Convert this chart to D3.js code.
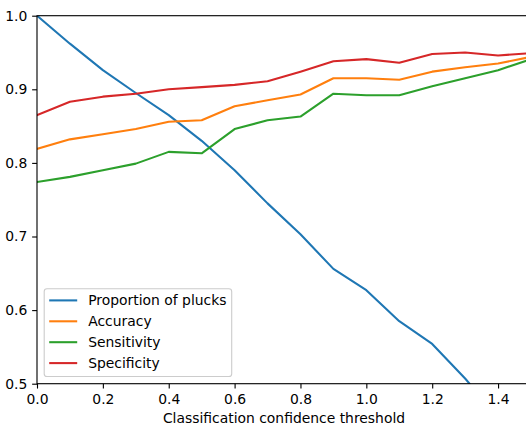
<!DOCTYPE html>
<html>
<head>
<meta charset="utf-8">
<script src="https://cdn.jsdelivr.net/npm/d3@7"></script>
<style>
  body { margin: 0; background: #fff; }
  text { font-family: "DejaVu Sans", sans-serif; font-size: 13.9px; fill: #000; }
</style>
</head>
<body>
<script>
// thresholds and measured curves
const thresholds = [0.0, 0.1, 0.2, 0.3, 0.4, 0.5, 0.6, 0.7, 0.8, 0.9, 1.0, 1.1, 1.2, 1.3, 1.4, 1.5];
const proportion = [1.0, 0.962, 0.926, 0.895, 0.865, 0.830, 0.790, 0.745, 0.703, 0.656, 0.627, 0.585, 0.554, 0.507, 0.455, 0.41];
const accuracy = [0.819, 0.832, 0.839, 0.846, 0.856, 0.858, 0.877, 0.885, 0.893, 0.915, 0.915, 0.913, 0.924, 0.930, 0.935, 0.944];
const sensitivity = [0.774, 0.781, 0.790, 0.799, 0.815, 0.813, 0.846, 0.858, 0.863, 0.894, 0.892, 0.892, 0.904, 0.915, 0.926, 0.941];
const specificity = [0.865, 0.883, 0.890, 0.894, 0.900, 0.903, 0.906, 0.911, 0.924, 0.938, 0.941, 0.936, 0.948, 0.950, 0.946, 0.949];

const seriesNames = ["Proportion of plucks", "Accuracy", "Sensitivity", "Specificity"];
const seriesColors = ["#1f77b4", "#ff7f0e", "#2ca02c", "#d62728"];
const xTicks = [0.0, 0.2, 0.4, 0.6, 0.8, 1.0, 1.2, 1.4];
const yTicks = [0.5, 0.6, 0.7, 0.8, 0.9, 1.0];

const W = 526, H = 425;
const plotL = 37, plotR = 531, plotT = 15.7, plotB = 383.7;

const svg = d3.select("body").append("svg")
    .attr("width", W)
    .attr("height", H);

svg.append("rect").attr("width", W).attr("height", H).attr("fill", "#fff");

const x = d3.scaleLinear().domain([0, 1.5]).range([plotL, plotR]);
const y = d3.scaleLinear().domain([0.5, 1.0]).range([plotB, plotT]);

svg.append("clipPath").attr("id", "plot")
    .append("rect")
    .attr("x", plotL).attr("y", plotT)
    .attr("width", plotR - plotL).attr("height", plotB - plotT);

const line = d3.line()
    .x((d, i) => x(thresholds[i]))
    .y(d => y(d));

const allSeries = [proportion, accuracy, sensitivity, specificity];
svg.append("g").attr("clip-path", "url(#plot)")
    .selectAll("path")
    .data(allSeries)
    .join("path")
    .attr("d", line)
    .attr("fill", "none")
    .attr("stroke", (d, i) => seriesColors[i])
    .attr("stroke-width", 2.08)
    .attr("stroke-linejoin", "round")
    .attr("stroke-linecap", "square");

// axes
const xAxis = d3.axisBottom(x).tickValues(xTicks).tickFormat(d3.format(".1f"))
    .tickSize(4.86).tickPadding(4.86);
const yAxis = d3.axisLeft(y).tickValues(yTicks).tickFormat(d3.format(".1f"))
    .tickSize(4.86).tickPadding(4.86);

const gx = svg.append("g").attr("transform", `translate(0,${plotB})`).call(xAxis);
const gy = svg.append("g").attr("transform", `translate(${plotL},0)`).call(yAxis);
[gx, gy].forEach(g => {
    g.select(".domain").remove();
    g.selectAll("line").attr("stroke", "#000").attr("stroke-width", 1.11);
    g.selectAll("text").attr("font-size", null).attr("font-family", null);
});
gx.selectAll("text").attr("dy", "0.76em");

// spines
svg.append("rect")
    .attr("x", plotL).attr("y", plotT)
    .attr("width", plotR - plotL).attr("height", plotB - plotT)
    .attr("fill", "none")
    .attr("stroke", "#000").attr("stroke-width", 1.11);

svg.append("text")
    .attr("x", (plotL + plotR) / 2)
    .attr("y", 422.5)
    .attr("text-anchor", "middle")
    .text("Classification confidence threshold");

// legend, lower left
const legend = svg.append("g");
legend.append("rect")
    .attr("x", 44.2).attr("y", 288.7)
    .attr("width", 187.5).attr("height", 87.8)
    .attr("rx", 2.8)
    .attr("fill", "#fff").attr("fill-opacity", 0.8)
    .attr("stroke", "#cccccc").attr("stroke-width", 1.11);

const rows = legend.selectAll("g.row")
    .data(seriesNames)
    .join("g")
    .attr("transform", (d, i) => `translate(0,${300.4 + i * 20.9})`);
rows.append("line")
    .attr("x1", 49.2).attr("x2", 77.2)
    .attr("stroke", (d, i) => seriesColors[i])
    .attr("stroke-width", 2.08);
rows.append("text")
    .attr("x", 88.2)
    .attr("dy", "0.36em")
    .text(d => d);
</script>
</body>
</html>
